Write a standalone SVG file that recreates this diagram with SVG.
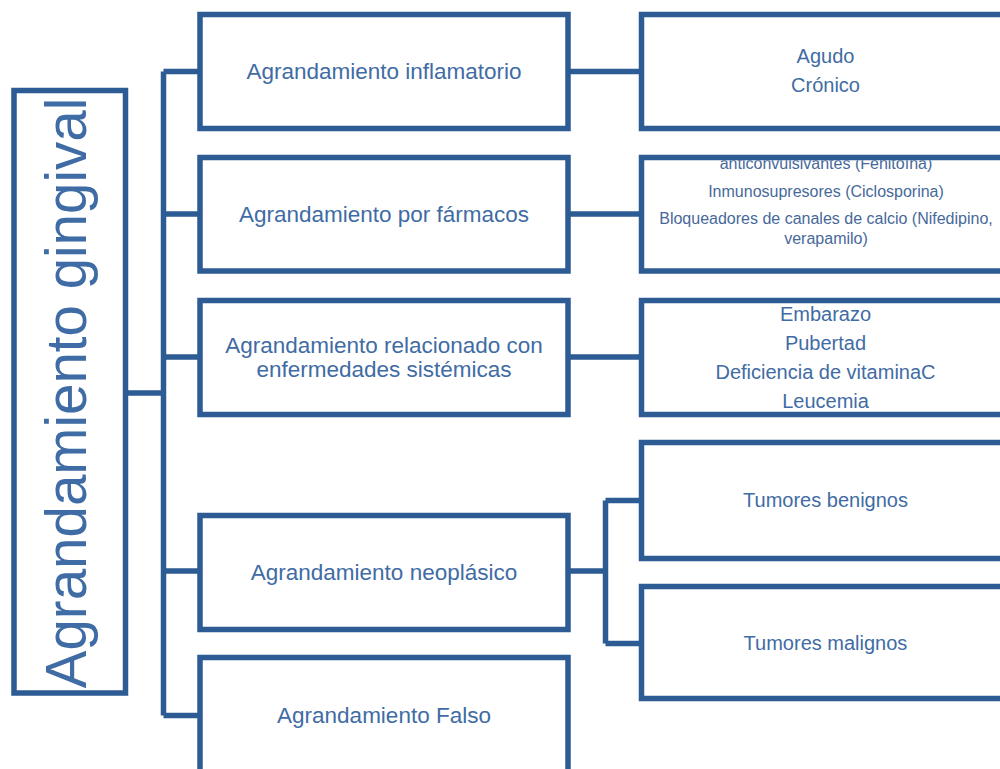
<svg xmlns="http://www.w3.org/2000/svg" width="1000" height="769" viewBox="0 0 1000 769">
<style>
.box{fill:#ffffff;stroke:#2D5B94;stroke-width:5.5}
.con{fill:none;stroke:#2D5B94;stroke-width:5.5}
.t{font-family:"Liberation Sans",Arial,sans-serif;fill:#3F6CA4;text-anchor:middle}
.mid{font-size:22.5px}
.rt{font-size:20px}
.drug{font-size:16px;fill:#47699A}
</style>
<defs>
<clipPath id="drugClip"><rect x="644" y="160.3" width="360" height="108"/></clipPath>
</defs>
<rect width="1000" height="769" fill="#ffffff"/>
<g id="connectors">
<path class="con" d="M125.5,393 H163.5 M163.5,71.5 V715.5 M163.5,71.5 H200 M163.5,214 H200 M163.5,357 H200 M163.5,571 H200 M163.5,715.5 H200"/>
<path class="con" d="M568,71.5 H641.5 M568,214 H641.5 M568,357 H641.5 M568,571 H605.5 M605.5,500.5 V643.5 M605.5,500.5 H641.5 M605.5,643.5 H641.5"/>
</g>
<g id="root">
<rect class="box" x="14" y="90.5" width="111.5" height="602.5"/>
<text class="t" font-size="56.5" transform="translate(86,393) rotate(-90)">Agrandamiento gingival</text>
</g>
<g id="n1">
<rect class="box" x="200" y="14.5" width="368" height="114"/>
<text class="t mid" x="384" y="79">Agrandamiento inflamatorio</text>
</g>
<g id="n2">
<rect class="box" x="200" y="157.5" width="368" height="113.5"/>
<text class="t mid" x="384" y="222">Agrandamiento por fármacos</text>
</g>
<g id="n3">
<rect class="box" x="200" y="300.5" width="368" height="114"/>
<text class="t mid" x="384" y="353">Agrandamiento relacionado con</text>
<text class="t mid" x="384" y="377">enfermedades sistémicas</text>
</g>
<g id="n4">
<rect class="box" x="200" y="515.5" width="368" height="114"/>
<text class="t mid" x="384" y="580">Agrandamiento neoplásico</text>
</g>
<g id="n5">
<rect class="box" x="200" y="657.5" width="368" height="140"/>
<text class="t mid" x="384" y="723">Agrandamiento Falso</text>
</g>
<g id="r1">
<rect class="box" x="641.5" y="14.5" width="400" height="114"/>
<text class="t rt" x="825.5" y="63">Agudo</text>
<text class="t rt" x="825.5" y="92">Crónico</text>
</g>
<g id="r2">
<rect class="box" x="641.5" y="157.5" width="400" height="113.5"/>
<g clip-path="url(#drugClip)">
<text class="t drug" x="826" y="169">anticonvulsivantes (Fenitoína)</text>
<text class="t drug" x="826" y="196.5">Inmunosupresores (Ciclosporina)</text>
<text class="t drug" x="826" y="224">Bloqueadores de canales de calcio (Nifedipino,</text>
<text class="t drug" x="826" y="243.5">verapamilo)</text>
</g>
</g>
<g id="r3">
<rect class="box" x="641.5" y="300.5" width="400" height="114"/>
<text class="t rt" x="825.5" y="321">Embarazo</text>
<text class="t rt" x="825.5" y="350">Pubertad</text>
<text class="t rt" x="825.5" y="379">Deficiencia de vitaminaC</text>
<text class="t rt" x="825.5" y="408">Leucemia</text>
</g>
<g id="r4">
<rect class="box" x="641.5" y="442.5" width="400" height="116"/>
<text class="t rt" x="825.5" y="507">Tumores benignos</text>
</g>
<g id="r5">
<rect class="box" x="641.5" y="586.5" width="400" height="112"/>
<text class="t rt" x="825.5" y="650">Tumores malignos</text>
</g>
</svg>
